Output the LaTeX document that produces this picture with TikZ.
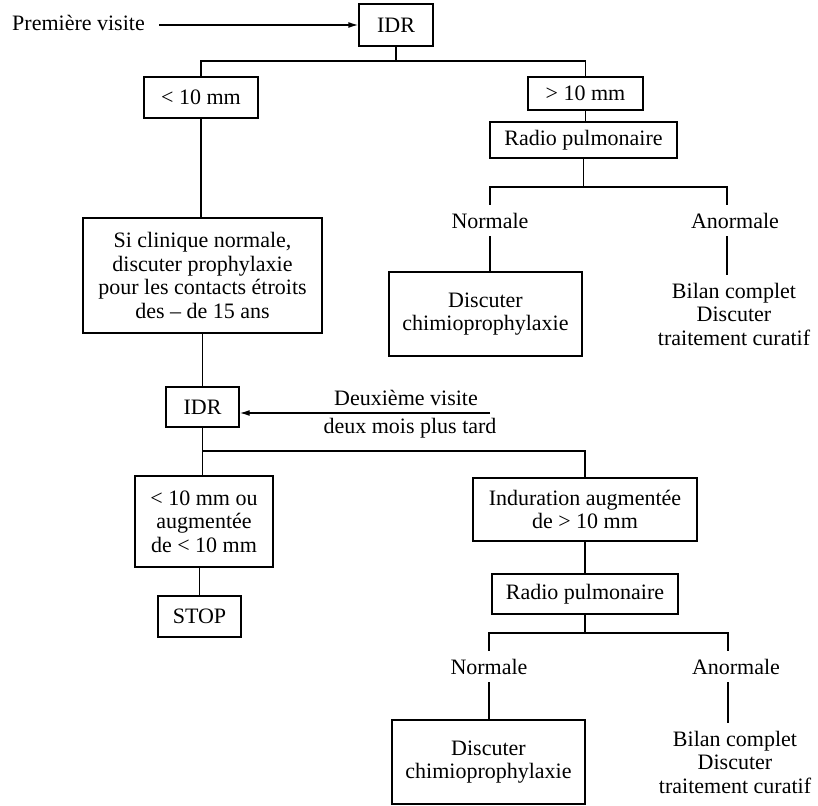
\documentclass[tikz,border=0pt]{standalone}
\usepackage{fontspec}
\setmainfont{Liberation Serif}
\usetikzlibrary{arrows.meta}

\tikzset{
  every node/.style={font=\fontsize{22}{23.5}\selectfont},
  box/.style={draw, line width=1.4pt, inner sep=0pt, align=center},
  lbl/.style={inner xsep=0pt, inner ysep=8pt, align=center},
  link/.style={line width=1.4pt},
  arr/.style={line width=1.4pt, -{Latex[length=10pt,width=6pt]}},
}

\begin{document}
\begin{tikzpicture}[x=1pt, y=-1pt]
\useasboundingbox (0,0) rectangle (818,805);

% ---- first visit ----
\node[lbl, anchor=base west] (pv) at (12,31) {Première visite};
\node[box, minimum width=74pt, minimum height=42pt] (idr1) at (396,25) {IDR};

\node[box, minimum width=114pt, minimum height=41pt] (lt10) at (201,97.5) {< 10 mm};
\node[box, minimum width=115pt, minimum height=33pt] (gt10) at (585.5,93.5) {> 10 mm};
\node[box, minimum width=187pt, minimum height=36pt] (radio1) at (583.5,140) {Radio pulmonaire};

\node[lbl, anchor=base] (n1) at (490,228) {Normale};
\node[lbl, anchor=base] (a1) at (735,228) {Anormale};
\node[box, minimum width=193pt, minimum height=84pt] (chimio1) at (485.5,314) {Discuter\\chimioprophylaxie};
\node[lbl, anchor=north] (b1) at (734,275) {Bilan complet\\Discuter\\traitement curatif};

\node[box, minimum width=239pt, minimum height=115pt] (clin) at (202.5,275.5)
  {Si clinique normale,\\discuter prophylaxie\\pour les contacts étroits\\des -- de 15 ans};

% ---- second visit ----
\node[box, minimum width=73pt, minimum height=40pt] (idr2) at (202.5,407) {IDR};
\node[lbl, anchor=base] (dv1) at (406,405) {Deuxième visite};
\node[lbl, anchor=base] (dv2) at (410,433) {deux mois plus tard};

\node[box, minimum width=138pt, minimum height=91pt] (lt10b) at (204,521.5) {< 10 mm ou\\augmentée\\de < 10 mm};
\node[box, minimum width=83pt, minimum height=41pt] (stop) at (199.5,616.5) {STOP};
\node[box, minimum width=224pt, minimum height=63pt] (indur) at (585,509.5) {Induration augmentée\\de > 10 mm};
\node[box, minimum width=186pt, minimum height=40pt] (radio2) at (585,594) {Radio pulmonaire};

\node[lbl, anchor=base] (n2) at (489,674) {Normale};
\node[lbl, anchor=base] (a2) at (736,674) {Anormale};
\node[box, minimum width=193pt, minimum height=84pt] (chimio2) at (488.5,762) {Discuter\\chimioprophylaxie};
\node[lbl, anchor=north] (b2) at (735,723) {Bilan complet\\Discuter\\traitement curatif};

% ---- junction points ----
\coordinate (pvs) at (159,25);
\coordinate (dvs) at (490,413);
\coordinate (j1) at (396,61);
\coordinate (j2) at (583.5,187);
\coordinate (j3) at (202.5,451);
\coordinate (j4) at (585,633);

% ---- arrows ----
\draw[arr] (pvs) -- (idr1.west);
\draw[arr] (dvs) -- (dvs -| idr2.east);

% ---- tree connectors, first visit ----
\draw[link] (idr1.south) -- (j1);
\draw[link] (j1) -| (lt10.north);
\draw[link] (j1) -| (gt10.north);
\draw[link] (gt10.south) -- (gt10.south |- radio1.north);
\draw[link] (radio1.south) -- (j2);
\draw[link] (j2) -| (n1.north);
\draw[link] (j2) -| ([xshift=-8pt]a1.north);
\draw[link] (n1.south) -- (n1.south |- chimio1.north);
\draw[link] ([xshift=-8pt]a1.south) -- ([xshift=-8pt]a1.south |- b1.north);
\draw[link] (lt10.south) -- (lt10.south |- clin.north);
\draw[link] (clin.south) -- (clin.south |- idr2.north);

% ---- tree connectors, second visit ----
\draw[link] (idr2.south) -- (j3);
\draw[link] (j3) -- (j3 |- lt10b.north);
\draw[link] (j3) -| (indur.north);
\draw[link] (stop.north |- lt10b.south) -- (stop.north);
\draw[link] (indur.south) -- (radio2.north);
\draw[link] (radio2.south) -- (j4);
\draw[link] (j4) -| (n2.north);
\draw[link] (j4) -| ([xshift=-8pt]a2.north);
\draw[link] (n2.south) -- (n2.south |- chimio2.north);
\draw[link] ([xshift=-8pt]a2.south) -- ([xshift=-8pt]a2.south |- b2.north);
\end{tikzpicture}
\end{document}
